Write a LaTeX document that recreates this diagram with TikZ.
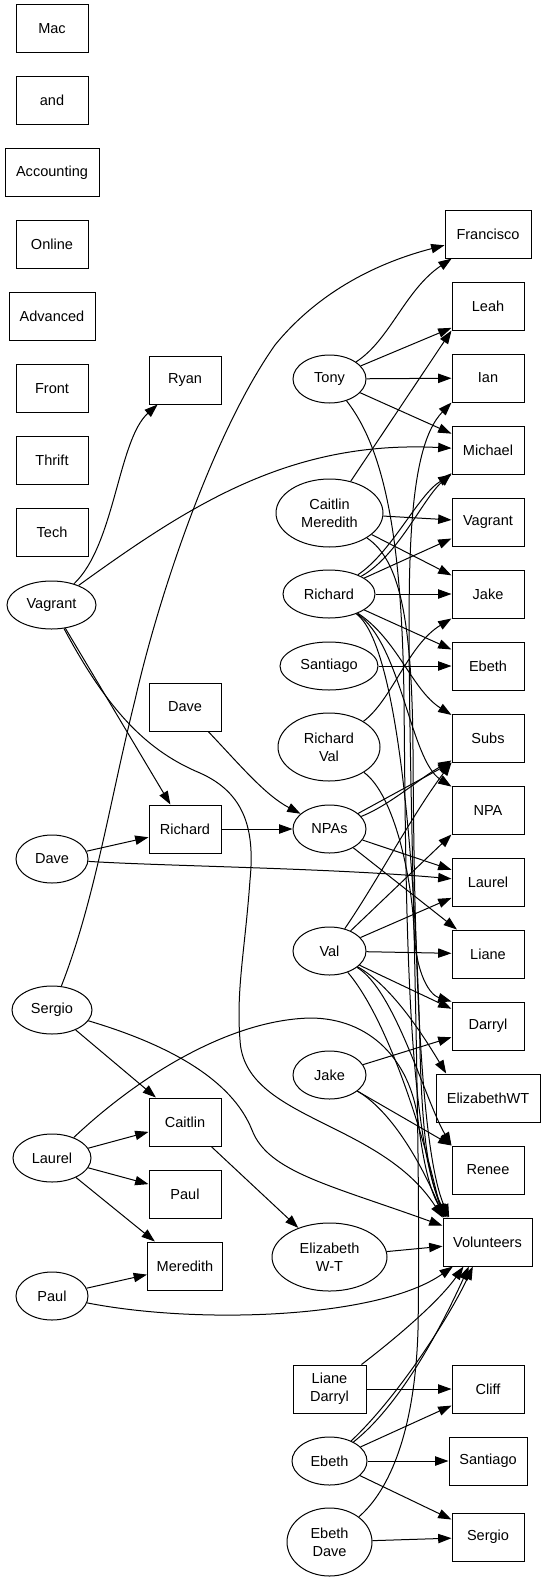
\documentclass[tikz,border=0pt]{standalone}
\usepackage{fontspec}
\setmainfont{Liberation Sans}
\usetikzlibrary{shapes.geometric,arrows.meta}
\begin{document}
\begin{tikzpicture}[x=0.75pt,y=-0.75pt,
  gbox/.style={draw,rectangle,minimum width=54pt,minimum height=36pt,inner sep=0pt,line width=0.75pt,font=\fontsize{10.9}{13.5}\selectfont,align=center},
  gell/.style={draw,ellipse,minimum width=54.75pt,minimum height=36pt,inner sep=0pt,line width=0.75pt,font=\fontsize{10.9}{13.5}\selectfont,align=center},
  conn/.style={line width=0.75pt,-{Triangle[length=10pt,width=7pt]}}]
\useasboundingbox (0,0) rectangle (547,1581);

% left column boxes
\node[gbox] (mac) at (52,28.5) {Mac};
\node[gbox] (andb) at (52,100.5) {and};
\node[gbox,minimum width=70.5pt] (acc) at (52,172.5) {Accounting};
\node[gbox] (online) at (52,244.5) {Online};
\node[gbox,minimum width=64.5pt] (adv) at (52,316.5) {Advanced};
\node[gbox] (front) at (52,388.5) {Front};
\node[gbox] (thrift) at (52,460.5) {Thrift};
\node[gbox] (tech) at (52,532.5) {Tech};

% left column ellipses
\node[gell,minimum width=66.75pt] (vagL) at (51.5,605) {Vagrant};
\node[gell,minimum width=54pt] (daveL) at (52,859) {Dave};
\node[gell,minimum width=60pt] (sergioL) at (52,1010) {Sergio};
\node[gell,minimum width=58.5pt] (laurelL) at (52,1158) {Laurel};
\node[gell,minimum width=54pt] (paulL) at (52,1296) {Paul};

% middle column
\node[gbox] (ryan) at (185,380) {Ryan};
\node[gbox] (daveB) at (185,707) {Dave};
\node[gbox] (richB) at (185,829) {Richard};
\node[gbox] (caitB) at (185,1122) {Caitlin};
\node[gbox] (paulB) at (185,1194) {Paul};
\node[gbox,minimum width=56.25pt] (meredB) at (185,1266) {Meredith};

% third column
\node[gell] (tony) at (329.5,379) {Tony};
\node[gell,minimum width=80.25pt,minimum height=51pt] (cm) at (329.5,513) {Caitlin\\Meredith};
\node[gell,minimum width=69pt] (richE) at (329,594) {Richard};
\node[gell,minimum width=73.5pt] (santE) at (329,666) {Santiago};
\node[gell,minimum width=76.5pt,minimum height=51pt] (rv) at (329,747) {Richard\\Val};
\node[gell] (npas) at (329.5,829) {NPAs};
\node[gell] (val) at (329.5,951) {Val};
\node[gell] (jakeE) at (329.5,1075) {Jake};
\node[gell,minimum width=86.25pt,minimum height=51pt] (ewt) at (329.5,1257) {Elizabeth\\W-T};
\node[gbox,minimum width=54.75pt] (ld) at (329.5,1389) {Liane\\Darryl};
\node[gell,minimum width=56.25pt] (ebethE) at (329.5,1461) {Ebeth};
\node[gell,minimum width=63.75pt,minimum height=51pt] (ed) at (329.5,1542) {Ebeth\\Dave};

% right column
\node[gbox,minimum width=64.5pt] (francisco) at (488,234) {Francisco};
\node[gbox] (leah) at (488,306) {Leah};
\node[gbox] (ian) at (488,378) {Ian};
\node[gbox] (michael) at (488,450) {Michael};
\node[gbox] (vagR) at (488,522) {Vagrant};
\node[gbox] (jakeR) at (488,594) {Jake};
\node[gbox] (ebethR) at (488,666) {Ebeth};
\node[gbox] (subs) at (488,738) {Subs};
\node[gbox] (npa) at (488,810) {NPA};
\node[gbox] (laurelR) at (488,882) {Laurel};
\node[gbox] (liane) at (488,954) {Liane};
\node[gbox] (darryl) at (488,1026) {Darryl};
\node[gbox,minimum width=78pt] (ewtR) at (488,1098) {ElizabethWT};
\node[gbox] (renee) at (488,1170) {Renee};
\node[gbox,minimum width=66.75pt] (vol) at (487.5,1242) {Volunteers};
\node[gbox] (cliff) at (488,1389) {Cliff};
\node[gbox,minimum width=58.5pt] (santR) at (488,1461) {Santiago};
\node[gbox] (sergioR) at (488,1537) {Sergio};

% ---- edges ----
% Vagrant
\draw[conn] (vagL) .. controls (115,545) and (118,440) .. (ryan);
\draw[conn] (vagL) .. controls (190,505) and (290,440) .. (michael);
\draw[conn] (vagL) -- (richB);
\draw[conn] (vagL) .. controls (110,715) and (150,752) .. (200,773)
  .. controls (245,793) and (255,830) .. (250,880)
  .. controls (245,950) and (236,990) .. (240,1040)
  .. controls (244,1120) and (380,1120) .. (vol.north west);
% Dave
\draw[conn] (daveL) -- (richB);
\draw[conn] (daveL) .. controls (160,866) and (330,868) .. (laurelR);
\draw[conn] (daveB) .. controls (240,765) and (265,795) .. (npas);
\draw[conn] (richB) -- (npas);
% Sergio
\draw[conn] (sergioL) .. controls (95,900) and (110,800) .. (135,700)
  .. controls (160,590) and (215,430) .. (275,345)
  .. controls (320,290) and (380,262) .. (francisco);
\draw[conn] (sergioL) -- (caitB);
\draw[conn] (sergioL) .. controls (170,1045) and (232,1080) .. (252,1130)
  .. controls (268,1172) and (330,1185) .. (vol);
% Laurel
\draw[conn] (laurelL) -- (caitB);
\draw[conn] (laurelL) -- (paulB);
\draw[conn] (laurelL) -- (meredB);
\draw[conn] (laurelL) .. controls (140,1075) and (230,1020) .. (310,1018)
  .. controls (370,1018) and (410,1060) .. (418,1120)
  .. controls (424,1170) and (432,1195) .. ([xshift=3pt]vol.north west);
% Paul
\draw[conn] (paulL) -- (meredB);
\draw[conn] (paulL) .. controls (200,1325) and (380,1318) .. (vol);
% Caitlin box
\draw[conn] (caitB) -- (ewt);
% Tony
\draw[conn] (tony) .. controls (390,340) and (405,290) .. (francisco);
\draw[conn] (tony) -- ([yshift=2pt]leah.south west);
\draw[conn] (tony) -- (ian);
\draw[conn] (tony) -- (michael);
\draw[conn] (tony) .. controls (385,450) and (402,540) .. (404,700)
  .. controls (406,900) and (406,1120) .. ([xshift=2pt]vol.north west);
% Caitlin Meredith
\draw[conn] (cm) -- (leah.south west);
\draw[conn] (cm) -- (vagR);
\draw[conn] (cm) -- (jakeR);
\draw[conn] (cm) .. controls (400,560) and (412,620) .. (413,750)
  .. controls (414,950) and (420,1150) .. ([xshift=5pt]vol.north west);
% Richard (ellipse)
\draw[conn] (richE) .. controls (392,552) and (418,495) .. (michael.south west);
\draw[conn] (richE) .. controls (398,556) and (422,500) .. ([yshift=1pt]michael.south west);
\draw[conn] (richE) -- (vagR);
\draw[conn] (richE) -- (jakeR);
\draw[conn] (richE) -- (ebethR);
\draw[conn] (richE) .. controls (398,640) and (412,690) .. (subs);
\draw[conn] (richE) .. controls (402,645) and (410,760) .. (npa);
\draw[conn] (richE) .. controls (406,650) and (418,950) .. (420,1050)
  .. controls (422,1130) and (428,1180) .. ([xshift=4pt]vol.north west);
% Santiago
\draw[conn] (santE) -- (ebethR);
% Richard Val
\draw[conn] (rv) .. controls (392,700) and (408,645) .. (jakeR.south west);
\draw[conn] (rv) .. controls (395,795) and (412,880) .. (414,930)
  .. controls (416,975) and (430,995) .. (darryl.north west);
% NPAs
\draw[conn] (npas) -- (subs.south west);
\draw[conn] (npas) .. controls (390,805) and (420,778) .. ([yshift=1.5pt]subs.south west);
\draw[conn] (npas) -- (laurelR);
\draw[conn] (npas) -- (liane);
% Val
\draw[conn] (val) .. controls (378,880) and (412,815) .. (subs.south west);
\draw[conn] (val) -- (npa.south west);
\draw[conn] (val) -- (laurelR);
\draw[conn] (val) -- (liane);
\draw[conn] (val) -- (darryl);
\draw[conn] (val) .. controls (390,985) and (420,1030) .. ([xshift=8pt]ewtR.north west);
\draw[conn] (val) .. controls (395,990) and (425,1100) .. (renee.north west);
\draw[conn] (val) .. controls (380,1010) and (415,1100) .. (vol.north west);
% Jake
\draw[conn] (jakeE) -- (darryl);
\draw[conn] (jakeE) -- (renee.north west);
\draw[conn] (jakeE) .. controls (390,1110) and (420,1160) .. ([xshift=1pt]vol.north west);
% Elizabeth W-T
\draw[conn] (ewt) -- (vol);
% Liane Darryl
\draw[conn] (ld) .. controls (400,1335) and (440,1300) .. ([xshift=-18pt]vol.south);
\draw[conn] (ld) -- (cliff);
% Ebeth
\draw[conn] (ebethE) -- (cliff);
\draw[conn] (ebethE) -- (santR);
\draw[conn] (ebethE) -- (sergioR);
\draw[conn] (ebethE) .. controls (400,1405) and (440,1330) .. ([xshift=-14pt]vol.south);
\draw[conn] (ebethE) .. controls (395,1400) and (448,1320) .. ([xshift=-11pt]vol.south);
% Ebeth Dave
\draw[conn] (ed) -- (sergioR);
\draw[conn] (ed) .. controls (390,1490) and (415,1430) .. (418,1330)
  .. controls (422,1100) and (405,700) .. (410,560)
  .. controls (413,470) and (425,430) .. (ian.south west);
\end{tikzpicture}
\end{document}
